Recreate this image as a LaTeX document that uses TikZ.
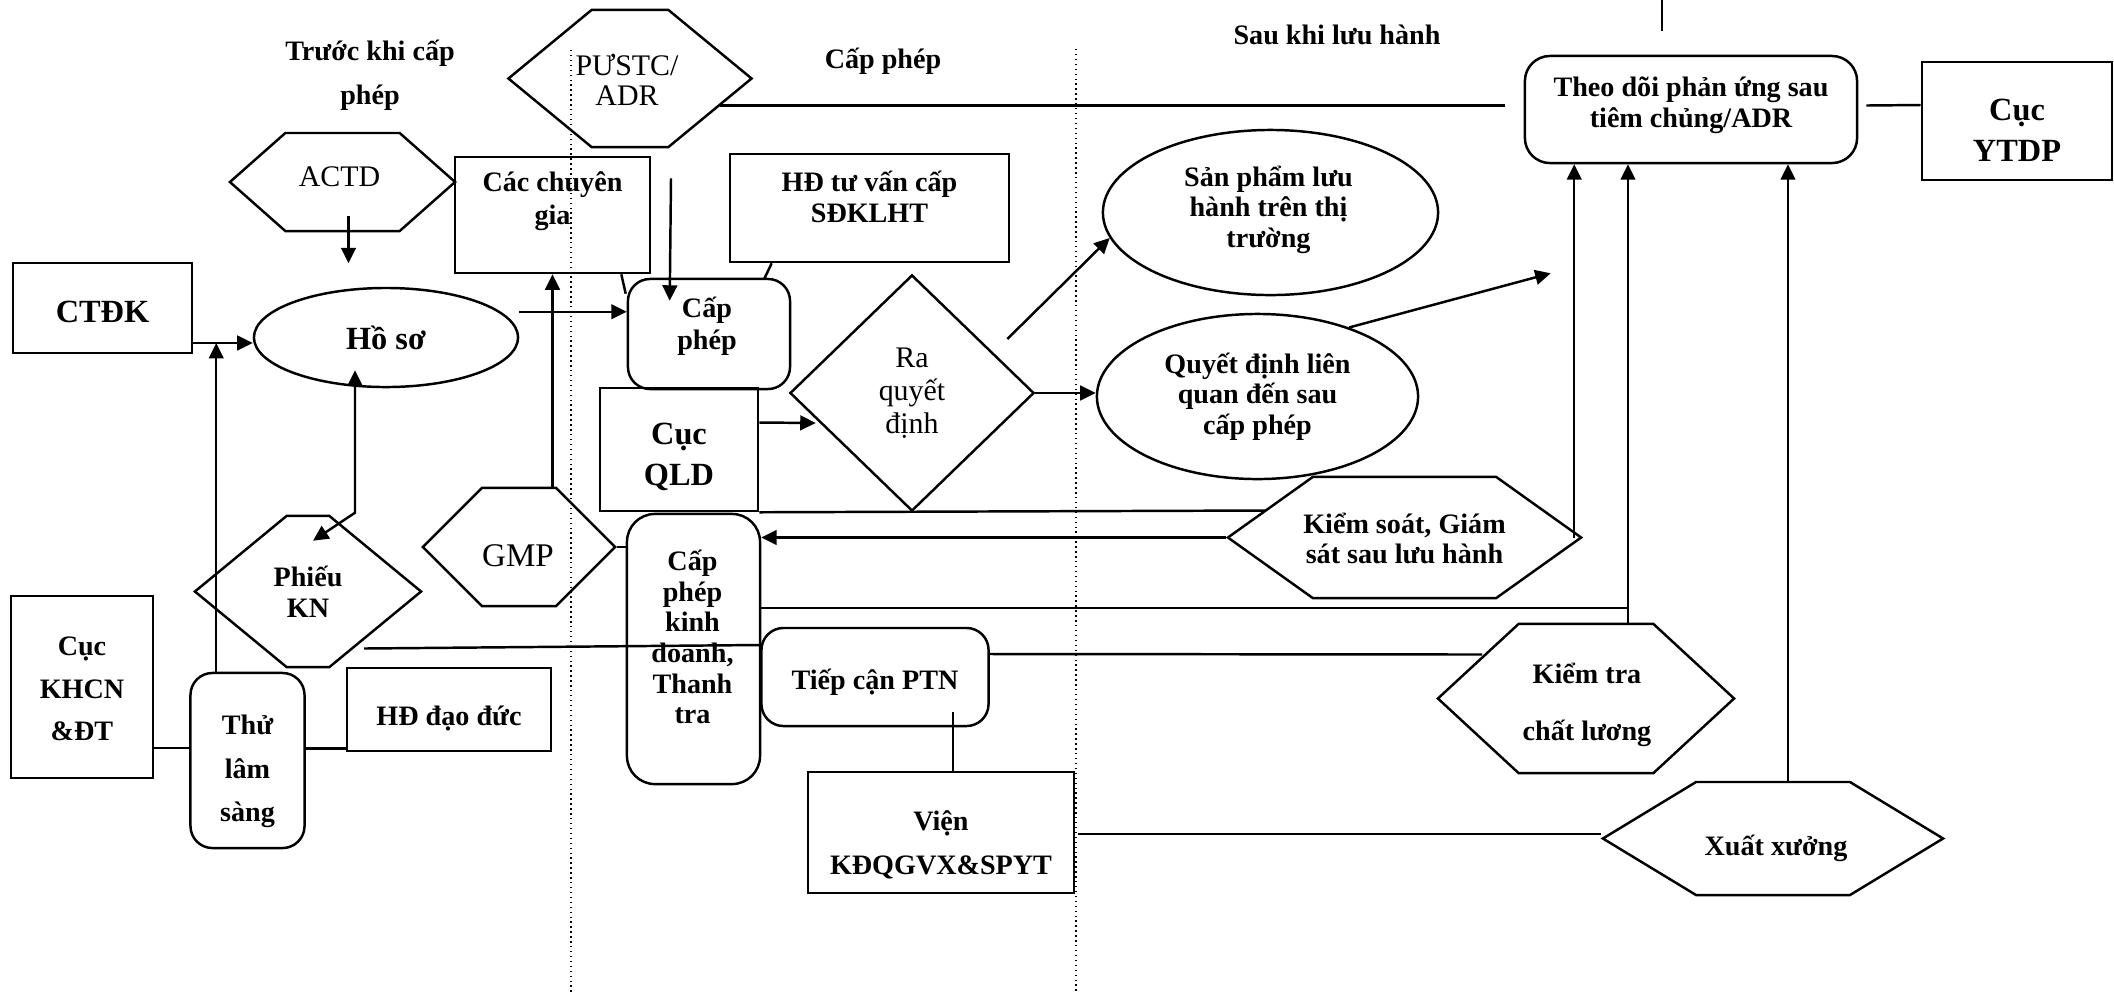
\documentclass[tikz,border=0pt]{standalone}
\usepackage{fontspec}
\setmainfont{Liberation Serif}
\usetikzlibrary{arrows.meta, calc, shapes.geometric, shapes.symbols}

\begin{document}
\begin{tikzpicture}[
    x=0.01cm, y=-0.01cm, line width=0.7pt,
    box/.style={draw, inner sep=0pt},
    rbox/.style={draw, inner sep=0pt, rounded corners=0.22cm},
    hexa/.style={draw, signal, signal to=east and west, inner sep=0pt},
    oval/.style={draw, ellipse, inner sep=0pt},
    txt/.style={font=\bfseries\fontsize{8}{8.7}\selectfont, align=center, inner sep=0pt},
    big/.style={font=\bfseries\fontsize{9.2}{11.5}\selectfont, align=center, inner sep=0pt},
    reg/.style={font=\fontsize{8.5}{8.6}\selectfont, align=center, inner sep=0pt},
    ttl/.style={font=\bfseries\fontsize{8}{12.5}\selectfont, align=center, inner sep=0pt},
    arr/.style={-{Triangle[length=4.4pt, width=4.2pt]}},
    dbl/.style={{Triangle[length=4.4pt, width=4.2pt]}-{Triangle[length=4.4pt, width=4.2pt]}},
    sep/.style={densely dotted, line width=0.4pt},
]
\useasboundingbox (0,0) rectangle (2114,993);

% ===================== Các giai đoạn =====================
\draw[sep] (571,50) -- (571,993);
\draw[sep] (1076,49) -- (1076,993);
\node[ttl] (ttl-truoc) at (370,75) {Trước khi cấp\\phép};
\node[txt] (ttl-cap) at (883,61) {Cấp phép};
\node[txt] (ttl-sau) at (1337,35) {Sau khi lưu hành};

% ===================== Trước khi cấp phép =====================
\node[hexa, signal pointer angle=83, minimum width=2.25cm, minimum height=0.98cm] (actd) at (342.5,182) {};
\node[reg] (actd-t) at ($(actd)+(-3,-5)$) {ACTD};

\node[box, minimum width=1.79cm, minimum height=0.90cm] (ctdk) at (102.5,308) {};
\node[big] (ctdk-t) at ($(ctdk)+(0,4)$) {CTĐK};

\node[oval, minimum width=2.64cm, minimum height=0.99cm] (hoso) at (386,337.5) {};
\node[big] (hoso-t) at (hoso) {Hồ sơ};

\node[hexa, signal pointer angle=79, minimum width=2.26cm, minimum height=1.51cm] (phieu) at (308,591.5) {};
\node[txt] (phieu-t) at (phieu) {Phiếu\\KN};

\node[hexa, signal pointer angle=90, minimum width=1.92cm, minimum height=1.18cm] (gmp) at (519,547) {};
\node[reg, font=\fontsize{9.4}{10}\selectfont] (gmp-t) at ($(gmp)+(-1,9)$) {GMP};

\node[box, minimum width=1.42cm, minimum height=1.82cm] (khcn) at (82,687) {};
\node[txt] (khcn-t) at ($(khcn)+(0,2)$) {Cục\\[3.4pt]KHCN\\[3.4pt]\&ĐT};

\node[rbox, minimum width=1.14cm, minimum height=1.75cm] (thu) at (247.5,760.5) {};
\node[txt] (thu-t) at ($(thu)+(0,11)$) {Thử\\[3.7pt]lâm\\[3.7pt]sàng};

\node[box, minimum width=2.04cm, minimum height=0.83cm] (hddd) at (449,709.5) {};
\node[txt] (hddd-t) at ($(hddd)+(0,8.5)$) {HĐ đạo đức};

% ===================== Cấp phép =====================
\node[hexa, signal pointer angle=79, minimum width=2.43cm, minimum height=1.37cm] (pustc) at (630,78.5) {};
\node[reg] (pustc-t) at ($(pustc)+(-3,1)$) {PƯSTC/\\ADR};

\node[box, minimum width=1.95cm, minimum height=1.16cm] (ccg) at (552.5,215) {};
\node[txt] (ccg-t) at ($(ccg)+(0,-13.5)$) {Các chuyên\\[0.7pt]gia};

\node[box, minimum width=2.79cm, minimum height=1.08cm] (hdtv) at (869.5,208) {};
\node[txt] (hdtv-t) at ($(hdtv)+(0,-11)$) {HĐ tư vấn cấp\\SĐKLHT};

\node[rbox, minimum width=1.62cm, minimum height=1.10cm] (capphep) at (709,334) {};
\node[txt] (capphep-t) at ($(capphep)+(-2,-8)$) {Cấp\\[0.4pt]phép};

\node[box, minimum width=1.58cm, minimum height=1.23cm] (qld) at (679,449.5) {};
\node[big] (qld-t) at ($(qld)+(0,7.5)$) {Cục\\QLD};

\node[draw, diamond, inner sep=0pt, minimum width=2.44cm, minimum height=2.36cm] (ra) at (912,393) {};
\node[reg] (ra-t) at (ra) {Ra\\[0.8pt]quyết\\[0.8pt]định};

\node[rbox, rounded corners=0.28cm, minimum width=1.33cm, minimum height=2.70cm] (cpkd) at (693.5,649) {};
\node[txt] (cpkd-t) at ($(cpkd)+(-1,-12)$) {Cấp\\phép\\kinh\\doanh,\\Thanh\\tra};

\node[rbox, minimum width=2.27cm, minimum height=0.98cm] (ptn) at (875,677) {};
\node[txt] (ptn-t) at ($(ptn)+(0,5)$) {Tiếp cận PTN};

\node[box, minimum width=2.66cm, minimum height=1.21cm] (vien) at (941,832.5) {};
\node[txt] (vien-t) at ($(vien)+(0,12)$) {Viện\\[3.8pt]KĐQGVX\&SPYT};

% ===================== Sau khi lưu hành =====================
\node[oval, minimum width=3.35cm, minimum height=1.65cm] (sp) at (1270.5,212.5) {};
\node[txt] (sp-t) at ($(sp)+(-2,-3)$) {Sản phẩm lưu\\hành trên thị\\trường};

\node[oval, minimum width=3.21cm, minimum height=1.65cm] (qd) at (1257.5,396.5) {};
\node[txt] (qd-t) at (qd) {Quyết định liên\\quan đến sau\\cấp phép};

\node[rbox, rounded corners=0.25cm, minimum width=3.32cm, minimum height=1.07cm] (theodoi) at (1691,109.5) {};
\node[txt] (theodoi-t) at ($(theodoi)+(0,-4)$) {Theo dõi phản ứng sau\\tiêm chủng/ADR};

\node[box, minimum width=1.90cm, minimum height=1.18cm] (ytdp) at (2017,121) {};
\node[big] (ytdp-t) at ($(ytdp)+(0,9.5)$) {Cục\\YTDP};

\node[hexa, signal pointer angle=71, minimum width=3.53cm, minimum height=1.21cm] (ks) at (1404.5,537.5) {};
\node[txt] (ks-t) at ($(ks)+(0,1)$) {Kiểm soát, Giám\\sát sau lưu hành};

\node[hexa, signal pointer angle=85.5, minimum width=2.96cm, minimum height=1.49cm] (kt) at (1586,698.5) {};
\node[txt] (kt-t) at ($(kt)+(1,6)$) {Kiểm tra\\[7.5pt]chất lương};

\node[hexa, signal pointer angle=62.5, minimum width=3.40cm, minimum height=1.13cm] (xx) at (1773,838.5) {};
\node[txt] (xx-t) at ($(xx)+(3,10)$) {Xuất xưởng};

% ===================== Luồng hồ sơ =====================
\coordinate (ctdk-out) at ($(ctdk.east)+(0,35)$);
\draw[arr] (ctdk-out) -- (ctdk-out -| hoso.west);
\coordinate (thu-up) at ($(thu.north west)+(27,0)$);
\draw[arr] (thu-up) -- (thu-up |- ctdk-out);
\draw[arr] ($(actd.south)+(6,-16)$) -- ($(actd.south)+(6,31)$);
\coordinate (kn-bend) at ($(phieu.north)+(47,-2)$);
\draw[dbl] ($(kn-bend |- hoso.south)+(0,-18)$) -- (kn-bend) -- ($(phieu.north)+(5,26)$);
\coordinate (cp-in) at ($(capphep.north west)+(0,34)$);
\draw[arr] (hoso.east |- cp-in) -- (cp-in);
\draw[arr] (gmp.north -| ccg.south) -- (ccg.south);
\draw ($(ccg.south east)+(-30,0)$) -- ($(capphep.north west)+(-1,16)$);
\draw ($(hdtv.south west)+(43,0)$) -- ($(capphep.north east)+(-27,1)$);
\draw[arr] ($(pustc.south)+(41,30)$) -- ($(capphep.north west)+(43,23)$);
\draw (gmp.east) -- (gmp.east -| cpkd.west);
\coordinate (khcn-out) at ($(khcn.east)+(0,61)$);
\draw (khcn-out) -- (khcn-out -| thu.west);
\coordinate (thu-out) at ($(thu.east)+(0,-12)$);
\draw (thu-out) -- (thu-out -| hddd.west);
\draw ($(phieu.east)+(-59,57)$) -- ($(ptn.west)+(0,-32)$);

% ===================== Quyết định =====================
\draw[arr] ($(qld.east)+(0,-27)$) -- ($(ra.west)+(27,30)$);
\draw[arr] ($(ra.east)+(-28,-54)$) -- (sp.189);
\draw[arr] (ra.east) -- (ra.east -| qd.west);
\coordinate (qd-end) at ($(theodoi.south west)+(27,109)$);
\draw[arr] (qd.37) -- (qd-end);
\draw (qld.south east) -- ($(ks.west)+(40,-27)$);
\draw[arr] (ks.west) -- (ks.west -| cpkd.east);

% ===================== Giám sát sau lưu hành =====================
\draw ($(pustc.east)+(-34,27)$) -- ($(theodoi.west)+(-19,-4)$);
\draw ($(theodoi.east)+(8,-4)$) -- ($(ytdp.west)+(0,-16)$);
\coordinate (stub) at (1662,0);
\draw (stub) -- ++(0,31);
\coordinate (ks-up) at ($(ks.east)+(-9,0)$);
\draw[arr] (ks-up) -- (ks-up |- theodoi.south);
\coordinate (kt-up) at ($(kt.north)+(42,0)$);
\draw[arr] (kt-up) -- (kt-up |- theodoi.south);
\coordinate (cp-out) at ($(cpkd.east)+(0,-41)$);
\draw (cp-out) -- (cp-out -| kt-up);
\draw ($(ptn.east)+(0,-23)$) -- ($(kt.west)+(46,-44)$);
\coordinate (ptn-dn) at ($(ptn.south)+(78,-15)$);
\draw (ptn-dn) -- (ptn-dn |- vien.north);
\coordinate (vien-out) at ($(vien.east)+(3,1.5)$);
\draw (vien-out) -- (vien-out -| xx.west);
\coordinate (xx-up) at ($(xx.north)+(15,0)$);
\draw[arr] (xx-up) -- (xx-up |- theodoi.south);

\end{tikzpicture}
\end{document}
